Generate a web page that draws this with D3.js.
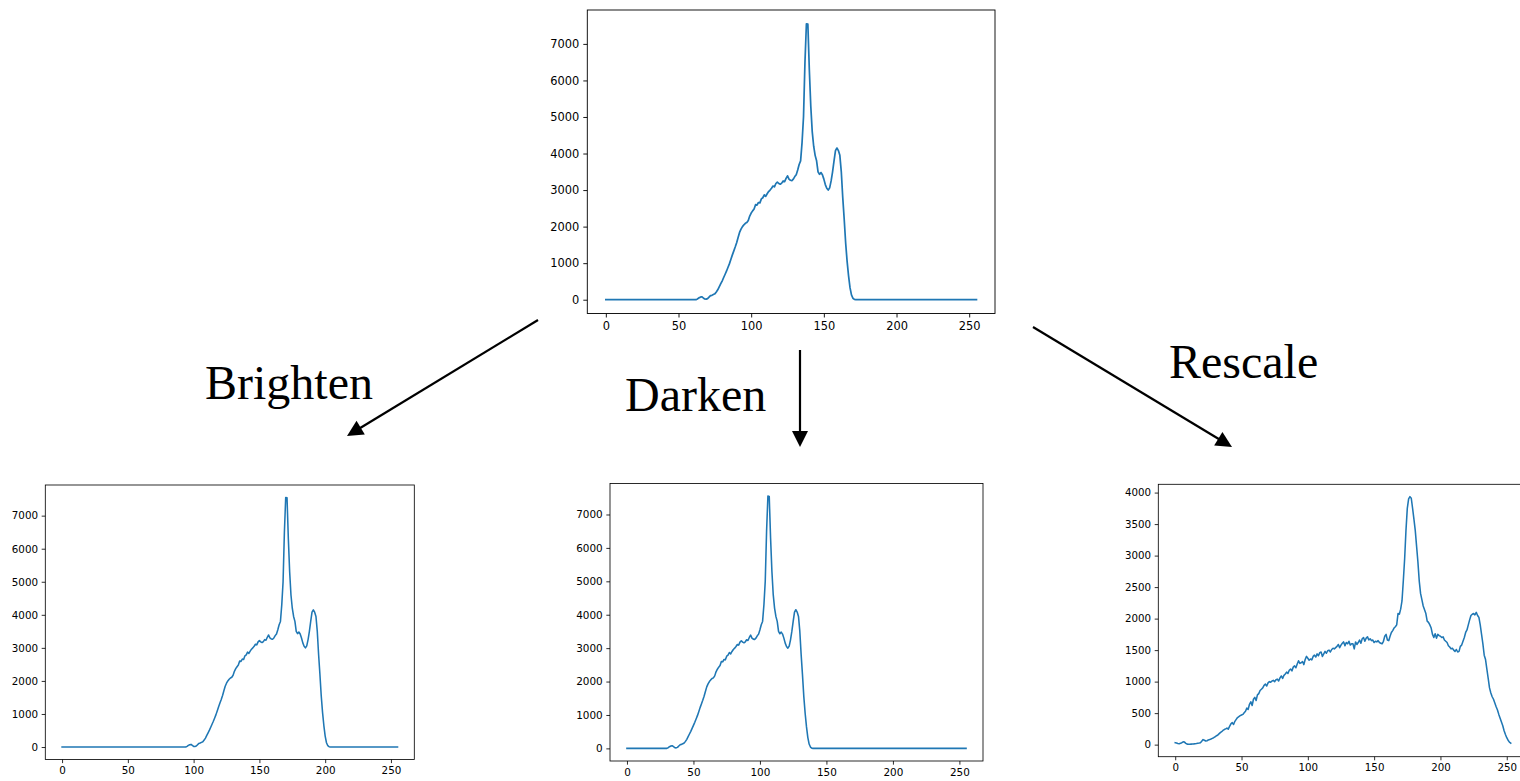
<!DOCTYPE html>
<html>
<head>
<meta charset="utf-8">
<script src="https://cdn.jsdelivr.net/npm/d3@7"></script>
<style>
  html, body { margin: 0; padding: 0; background: #fff; overflow: hidden; }
  svg { display: block; }
</style>
</head>
<body>
<svg id="fig" width="1520" height="781"></svg>
<script>
// ---------------- DATA ----------------
const xTickValues = [0, 50, 100, 150, 200, 250];
const yTicksCounts = [0, 1000, 2000, 3000, 4000, 5000, 6000, 7000];
const yTicksRescale = [0, 500, 1000, 1500, 2000, 2500, 3000, 3500, 4000];
const binCount = 256;

// Original histogram (non-zero part starts at bin 60)
const originalStart = 60;
const originalCounts = [
  0, 0, 0, 20, 50, 70, 80, 50, 20, 15,
  30, 70, 110, 120, 140, 160, 210, 270, 350, 430,
  510, 600, 690, 780, 880, 980, 1100, 1220, 1330, 1440,
  1560, 1700, 1840, 1930, 2000, 2050, 2090, 2110, 2170, 2290,
  2370, 2430, 2480, 2600, 2590, 2660, 2650, 2760, 2790, 2870,
  2830, 2900, 2960, 3000, 3050, 3110, 3090, 3180, 3220, 3180,
  3160, 3190, 3250, 3230, 3320, 3390, 3300, 3270, 3260, 3300,
  3370, 3420, 3550, 3700, 3800, 4300, 5000, 6500, 7550, 7540,
  6300, 5300, 4600, 4200, 3950, 3800, 3500, 3430, 3480, 3420,
  3300, 3150, 3050, 3000, 3060, 3250, 3500, 3800, 4080, 4150,
  4080, 3950, 3500, 2800, 2200, 1550, 1050, 650, 330, 130,
  40, 8, 0, 0, 0, 0
];

// Brightened histogram (non-zero part starts at bin 92)
const brightenStart = 92;
const brightenCounts = [
  0, 0, 0, 20, 50, 70, 80, 50, 20, 15,
  30, 70, 110, 120, 140, 160, 210, 270, 350, 430,
  510, 600, 690, 780, 880, 980, 1100, 1220, 1330, 1440,
  1560, 1700, 1840, 1930, 2000, 2050, 2090, 2110, 2170, 2290,
  2370, 2430, 2480, 2600, 2590, 2660, 2650, 2760, 2790, 2870,
  2830, 2900, 2960, 3000, 3050, 3110, 3090, 3180, 3220, 3180,
  3160, 3190, 3250, 3230, 3320, 3390, 3300, 3270, 3260, 3300,
  3370, 3420, 3550, 3700, 3800, 4300, 5000, 6500, 7550, 7540,
  6300, 5300, 4600, 4200, 3950, 3800, 3500, 3430, 3480, 3420,
  3300, 3150, 3050, 3000, 3060, 3250, 3500, 3800, 4080, 4150,
  4080, 3950, 3500, 2800, 2200, 1550, 1050, 650, 330, 130,
  40, 8, 0, 0, 0, 0
];

// Darkened histogram (non-zero part starts at bin 28)
const darkenStart = 28;
const darkenCounts = [
  0, 0, 0, 20, 50, 70, 80, 50, 20, 15,
  30, 70, 110, 120, 140, 160, 210, 270, 350, 430,
  510, 600, 690, 780, 880, 980, 1100, 1220, 1330, 1440,
  1560, 1700, 1840, 1930, 2000, 2050, 2090, 2110, 2170, 2290,
  2370, 2430, 2480, 2600, 2590, 2660, 2650, 2760, 2790, 2870,
  2830, 2900, 2960, 3000, 3050, 3110, 3090, 3180, 3220, 3180,
  3160, 3190, 3250, 3230, 3320, 3390, 3300, 3270, 3260, 3300,
  3370, 3420, 3550, 3700, 3800, 4300, 5000, 6500, 7550, 7540,
  6300, 5300, 4600, 4200, 3950, 3800, 3500, 3430, 3480, 3420,
  3300, 3150, 3050, 3000, 3060, 3250, 3500, 3800, 4080, 4150,
  4080, 3950, 3500, 2800, 2200, 1550, 1050, 650, 330, 130,
  40, 8, 0, 0, 0, 0
];

// Rescaled histogram (bins 0..253)
const rescaleStart = 0;
const rescaleCounts = [
  30, 25, 18, 15, 22, 30, 45, 40, 20, 8,
  5, 6, 8, 10, 12, 15, 18, 22, 25, 31,
  55, 80, 70, 58, 62, 75, 82, 90, 100, 110,
  125, 140, 150, 170, 190, 205, 225, 240, 250, 262,
  245, 290, 330, 350, 320, 370, 400, 430, 445, 460,
  470, 480, 505, 530, 580, 560, 640, 680, 620, 720,
  750, 700, 790, 810, 860, 880, 900, 940, 960, 930,
  980, 1000, 990, 1010, 1020, 1000, 1030, 1040, 1010, 1060,
  1090, 1050, 1100, 1120, 1150, 1130, 1180, 1200, 1170, 1230,
  1250, 1220, 1280, 1330, 1290, 1300, 1320, 1270, 1350, 1400,
  1370, 1340, 1360, 1345, 1400, 1420, 1390, 1440, 1410, 1460,
  1470, 1400, 1440, 1480, 1450, 1490, 1500, 1470, 1510, 1530,
  1520, 1540, 1560, 1590, 1540, 1580, 1610, 1630, 1570, 1620,
  1600, 1640, 1580, 1600, 1600, 1520, 1630, 1590, 1620, 1660,
  1610, 1680, 1700, 1640, 1690, 1710, 1660, 1680, 1650, 1660,
  1620, 1640, 1630, 1650, 1620, 1610, 1600, 1640, 1720, 1750,
  1660, 1650, 1720, 1780, 1810, 1850, 1870, 1900, 2080, 2070,
  2150, 2280, 2600, 2950, 3400, 3750, 3900, 3935, 3910, 3750,
  3580, 3400, 3150, 2900, 2600, 2400, 2300, 2200, 2140, 2080,
  1960, 1940, 1900, 1850, 1750, 1700, 1760, 1690, 1750, 1730,
  1720, 1700, 1710, 1660, 1640, 1620, 1570, 1550, 1520, 1530,
  1500, 1480, 1510, 1470, 1480, 1560, 1580, 1640, 1700, 1780,
  1820, 1900, 1980, 2050, 2070, 2080, 2060, 2100, 2050, 2020,
  1900, 1750, 1600, 1420, 1350, 1200, 1050, 900, 820, 760,
  720, 660, 600, 550, 480, 420, 360, 300, 220, 160,
  110, 70, 40, 25
];

const panelLabels = ["Brighten", "Darken", "Rescale"];

// ---------------- DRAWING ----------------
const svg = d3.select("#fig");
const lineColor = "#1f77b4";

function toSeries(start, counts, fillToEnd) {
  const pts = [];
  const end = fillToEnd ? binCount : start + counts.length;
  for (let b = 0; b < end; b++) {
    const i = b - start;
    pts.push([b, (i >= 0 && i < counts.length) ? counts[i] : 0]);
  }
  return pts;
}

function drawPanel(cfg) {
  const { left, top, width, height, scale, data, yTicks } = cfg;
  const g = svg.append("g");
  const x = d3.scaleLinear().domain([-12.75, 267.75]).range([left, left + width]);
  const ext = d3.extent(data, d => d[1]);
  const pad = (ext[1] - ext[0]) * 0.05;
  const y = d3.scaleLinear().domain([ext[0] - pad, ext[1] + pad]).range([top + height, top]);

  const fontPx = 13.89 * scale;
  const tickLen = 4.86 * scale;
  const tickW = 1.11 * scale;

  const line = d3.line().x(d => x(d[0])).y(d => y(d[1]));
  g.append("path").datum(data)
    .attr("d", line)
    .attr("fill", "none")
    .attr("stroke", lineColor)
    .attr("stroke-width", 2.08 * scale)
    .attr("stroke-linejoin", "round")
    .attr("stroke-linecap", "square");

  const xAxis = g.append("g")
    .attr("transform", `translate(0,${top + height})`)
    .call(d3.axisBottom(x).tickValues(xTickValues).tickSize(tickLen).tickPadding(tickLen).tickSizeOuter(0));
  const yAxis = g.append("g")
    .attr("transform", `translate(${left},0)`)
    .call(d3.axisLeft(y).tickValues(yTicks).tickFormat(d3.format("d")).tickSize(tickLen).tickPadding(tickLen).tickSizeOuter(0));
  [xAxis, yAxis].forEach(a => {
    a.select(".domain").remove();
    a.selectAll(".tick line").attr("stroke", "#000").attr("stroke-width", tickW);
    a.selectAll(".tick text")
      .attr("fill", "#000")
      .style("font-family", "'DejaVu Sans', sans-serif")
      .style("font-size", fontPx + "px");
  });

  g.append("rect")
    .attr("x", left).attr("y", top)
    .attr("width", width).attr("height", height)
    .attr("fill", "none")
    .attr("stroke", "#000")
    .attr("stroke-width", tickW);
}

drawPanel({ left: 587.3, top: 10, width: 407.7, height: 303.5, scale: 0.822,
  data: toSeries(originalStart, originalCounts, true), yTicks: yTicksCounts });
drawPanel({ left: 45.3, top: 485, width: 369, height: 274.5, scale: 0.744,
  data: toSeries(brightenStart, brightenCounts, true), yTicks: yTicksCounts });
drawPanel({ left: 610, top: 483.5, width: 373, height: 277.5, scale: 0.751,
  data: toSeries(darkenStart, darkenCounts, true), yTicks: yTicksCounts });
drawPanel({ left: 1158.3, top: 484.3, width: 372, height: 272.4, scale: 0.74,
  data: toSeries(rescaleStart, rescaleCounts, false), yTicks: yTicksRescale });

// Labels
const labelPos = [[205, 399], [625, 411], [1169, 378]];
panelLabels.forEach((t, i) => {
  svg.append("text")
    .attr("x", labelPos[i][0]).attr("y", labelPos[i][1])
    .text(t)
    .style("font-family", "'Liberation Serif', 'Times New Roman', serif")
    .style("font-size", "48px")
    .attr("fill", "#000");
});

// Arrows
function arrow(x1, y1, x2, y2) {
  const headLen = 16, headHalf = 8;
  const dx = x2 - x1, dy = y2 - y1;
  const L = Math.hypot(dx, dy);
  const ux = dx / L, uy = dy / L;
  const bx = x2 - ux * headLen, by = y2 - uy * headLen;
  svg.append("line")
    .attr("x1", x1).attr("y1", y1).attr("x2", bx + ux * 2).attr("y2", by + uy * 2)
    .attr("stroke", "#000").attr("stroke-width", 2.2);
  svg.append("polygon")
    .attr("points", [
      [x2, y2],
      [bx - uy * headHalf, by + ux * headHalf],
      [bx + uy * headHalf, by - ux * headHalf]
    ].map(p => p.join(",")).join(" "))
    .attr("fill", "#000");
}
arrow(538, 320, 347, 436);
arrow(800, 350, 800, 447);
arrow(1033, 327, 1232, 447);
</script>
</body>
</html>
